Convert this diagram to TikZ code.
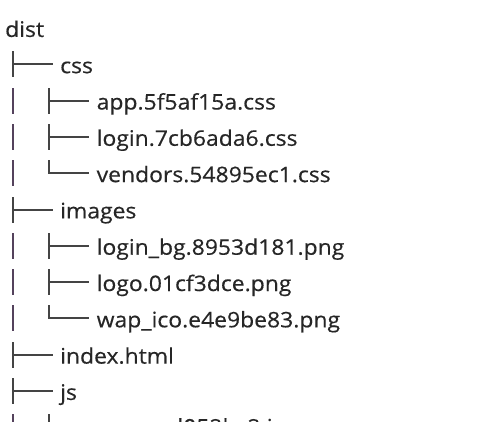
\documentclass[tikz,border=0pt]{standalone}
\usepackage{fontspec}
\setmainfont{Open Sans}[FakeStretch=1.07,FakeBold=0.4]
\definecolor{txt}{HTML}{262626}
\definecolor{lin}{HTML}{444444}
\definecolor{pip}{HTML}{54425C}
\newcommand\treeTeeA[1]{\draw[tree] (13,{#1-13}) -- (13,{#1+13}) (13,#1) -- (53,#1);}
\newcommand\treeTeeB[1]{\draw[pipe] (13,{#1-13}) -- (13,{#1+13});
  \draw[tree] (49,{#1-13}) -- (49,{#1+13}) (49,#1) -- (89,#1);}
\newcommand\treeEndB[1]{\draw[pipe] (13,{#1-13}) -- (13,{#1+13});
  \draw[tree] (49,{#1-13}) -- (49,#1) -- (89,#1);}
\begin{document}
\begin{tikzpicture}[x=1bp,y=-1bp,
  fname/.style={anchor=base west,inner sep=0pt,font=\fontsize{21.5}{24}\selectfont,text=txt},
  tree/.style={draw=lin,line width=2bp},
  pipe/.style={draw=pip,line width=2.4bp}]
\useasboundingbox (0,0) rectangle (487,421);
\fill[white] (0,0) rectangle (487,421);
\begin{scope}
\clip (0,0) rectangle (487,421);
% rows: ym ~ 28 + 36.3 k, baseline = ym + 8.8
\node[fname] (dist)    at (5,36.9)    {dist};
\node[fname] (css)     at (60,73.2)   {css};
\node[fname] (app)     at (96.5,109.5)  {app.5f5af15a.css};
\node[fname] (login)   at (96.5,145.8)  {login.7cb6ada6.css};
\node[fname] (vendors) at (96.5,182.1)  {vendors.54895ec1.css};
\node[fname] (images)  at (60,218.4)  {images};
\node[fname] (loginbg) at (96.5,254.7)  {login\_bg.8953d181.png};
\node[fname] (logo)    at (96.5,291.0)  {logo.01cf3dce.png};
\node[fname] (wapico)  at (96.5,327.3)  {wap\_ico.e4e9be83.png};
\node[fname] (index)   at (60,363.6)  {index.html};
\node[fname] (js)      at (60,399.9)  {js};
\node[fname] (appjs)   at (96.5,434.5)  {app.ead052bc2.js};
\treeTeeA{64}
\treeTeeB{101}
\treeTeeB{137}
\treeEndB{173}
\treeTeeA{210}
\treeTeeB{246}
\treeTeeB{282}
\treeEndB{318}
\treeTeeA{355}
\treeTeeA{391}
\treeTeeB{427}
\end{scope}
\end{tikzpicture}
\end{document}
